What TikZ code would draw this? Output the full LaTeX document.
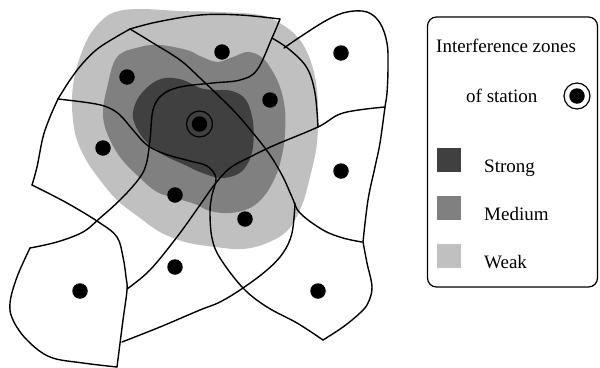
\documentclass[tikz,border=0pt]{standalone}
\usepackage{fontspec}
\setmainfont{Liberation Serif}
\usetikzlibrary{positioning}

\definecolor{strongzone}{HTML}{404040}
\definecolor{mediumzone}{HTML}{808080}
\definecolor{weakzone}{HTML}{C0C0C0}

\tikzset{
  border/.style={line width=1.4pt, line join=round, line cap=round},
  station/.style={circle, fill=black, inner sep=0pt, minimum size=15.5pt},
  ring/.style={circle, draw, line width=1.2pt, inner sep=0pt, minimum size=26pt},
  swatch/.style={inner sep=0pt, minimum size=24pt},
  legendtext/.style={font=\fontsize{19}{22}\selectfont, inner sep=0pt, anchor=base west},
}

\begin{document}
\begin{tikzpicture}[x=1pt, y=-1pt]
    \useasboundingbox (0,0) rectangle (600,367);

    % --- Interference zones (weak, medium, strong) ---
    \fill[weakzone] plot[smooth cycle, tension=0.6] coordinates {
        (115,12) (140,9) (180,11) (220,12) (260,15) (283,25) (300,40) (311,62)
        (317,90) (318,125) (316,150) (310,177) (302,205) (288,230) (267,243)
        (243,249) (215,247) (185,242) (160,232) (140,218) (117,200) (100,180)
        (85,158) (75,133) (72,100) (76,70) (87,40) (100,22)};
    \fill[mediumzone] plot[smooth cycle, tension=0.6] coordinates {
        (117,57) (140,47) (160,45) (187,50) (200,56) (217,62) (233,57) (247,52)
        (260,56) (270,67) (280,87) (285,110) (285,133) (283,150) (277,173)
        (265,195) (250,208) (230,213) (210,211) (195,204) (175,198) (157,192)
        (140,178) (120,157) (107,133) (103,113) (107,88)};
    \fill[strongzone] plot[smooth cycle, tension=0.6] coordinates {
        (133,118) (137,100) (150,85) (165,78) (183,80) (200,88) (215,90) (232,91)
        (246,100) (253,122) (253,147) (248,163) (238,174) (220,178) (200,172)
        (185,165) (160,153) (143,138)};

    % --- Cell borders ---
    % outer border, upper left
    \draw[border] plot[smooth, tension=0.6] coordinates {(32,185) (37,167) (43,137) (50,117) (58,99)};
    \draw[border] plot[smooth, tension=0.6] coordinates {(58,99) (70,80) (83,63) (100,47) (130,29)};
    \draw[border] plot[smooth, tension=0.6] coordinates {(130,29) (157,22) (200,15) (240,15) (280,19)};
    % long curve down to the lower left
    \draw[border] plot[smooth, tension=0.6] coordinates {(280,19) (272,38) (257,70) (240,80) (213,83)
        (180,87) (162,95) (153,110) (150,140) (146,165) (138,180) (120,200) (100,218) (83,232) (57,242) (30,248)};
    % lower left cell
    \draw[border] plot[smooth, tension=0.6] coordinates {(30,248) (17,277) (10,303) (13,320) (27,340)
        (50,357) (83,363) (117,367)};
    \draw[border] plot[smooth, tension=0.6] coordinates {(32,185) (67,203) (100,223) (117,237) (123,257)
        (126,277) (127,290) (123,320) (117,367)};
    % from the left through the centre, then down
    \draw[border] plot[smooth, tension=0.6] coordinates {(58,99) (90,103) (107,107) (120,115) (133,130)
        (147,145) (165,154) (190,161) (207,166) (216,178) (212,195) (210,212) (212,238) (220,258)
        (243,288) (267,307) (297,323) (323,340)};
    % from the lower left, through the centre, to the right
    \draw[border] plot[smooth, tension=0.6] coordinates {(127,289) (150,270) (177,237) (200,205) (215,184)
        (230,168) (250,157) (275,145) (318,127) (343,113) (385,107)};
    % diagonal from the top left
    \draw[border] plot[smooth, tension=0.6] coordinates {(130,29) (153,43) (180,60) (200,78) (233,110)
        (253,133) (270,155) (283,177) (292,197) (300,213) (323,230) (343,238) (362,242)};
    \draw[border] plot[smooth, tension=0.6] coordinates {(295,203) (292,233) (283,253) (267,270) (243,288)
        (220,302) (200,310) (160,327) (122,342)};
    % cells on the right
    \draw[border] plot[smooth, tension=0.6] coordinates {(272,38) (290,50) (307,68) (315,93) (318,127)};
    \draw[border] plot[smooth, tension=0.6] coordinates {(284,48) (300,37) (327,20) (347,12) (367,12)
        (380,23) (387,43) (388,67) (387,93) (385,107) (380,143) (375,167) (368,200) (363,242)};
    \draw[border] plot[smooth, tension=0.6] coordinates {(363,242) (367,263) (372,287) (368,303)
        (360,313) (343,327) (323,340)};

    % --- Stations ---
    \foreach \px/\py [count=\i] in {222/52, 127/77, 341/53, 270/100, 103/148, 175/195,
                                    341/171, 245/219, 175/267, 80/291, 318/291}
        \node[station] (st\i) at (\px,\py) {};
    % station whose interference is shown
    \node[station] (central) at (199.5,124) {};
    \node[ring] (centralring) at (central) {};

    % --- Legend ---
    \node[draw, line width=1.2pt, rounded corners=9pt, minimum width=170pt, minimum height=270pt,
          inner sep=0pt] (legend) at (512.5,152) {};
    \node[legendtext] (title) at (436,52) {Interference zones};
    \node[legendtext] (titlestation) at (466,102) {of station};
    \node[station] (keystation) at (577,96) {};
    \node[ring] (keyring) at (keystation) {};

    \node[swatch, fill=strongzone] (keystrong) at (449,160) {};
    \node[swatch, fill=mediumzone] (keymedium) at (449,208) {};
    \node[swatch, fill=weakzone]   (keyweak)   at (449,256) {};
    \node[legendtext] (labstrong) at (484,172) {Strong};
    \node[legendtext] (labmedium) at (484,220) {Medium};
    \node[legendtext] (labweak)   at (484,268) {Weak};

\end{tikzpicture}
\end{document}
